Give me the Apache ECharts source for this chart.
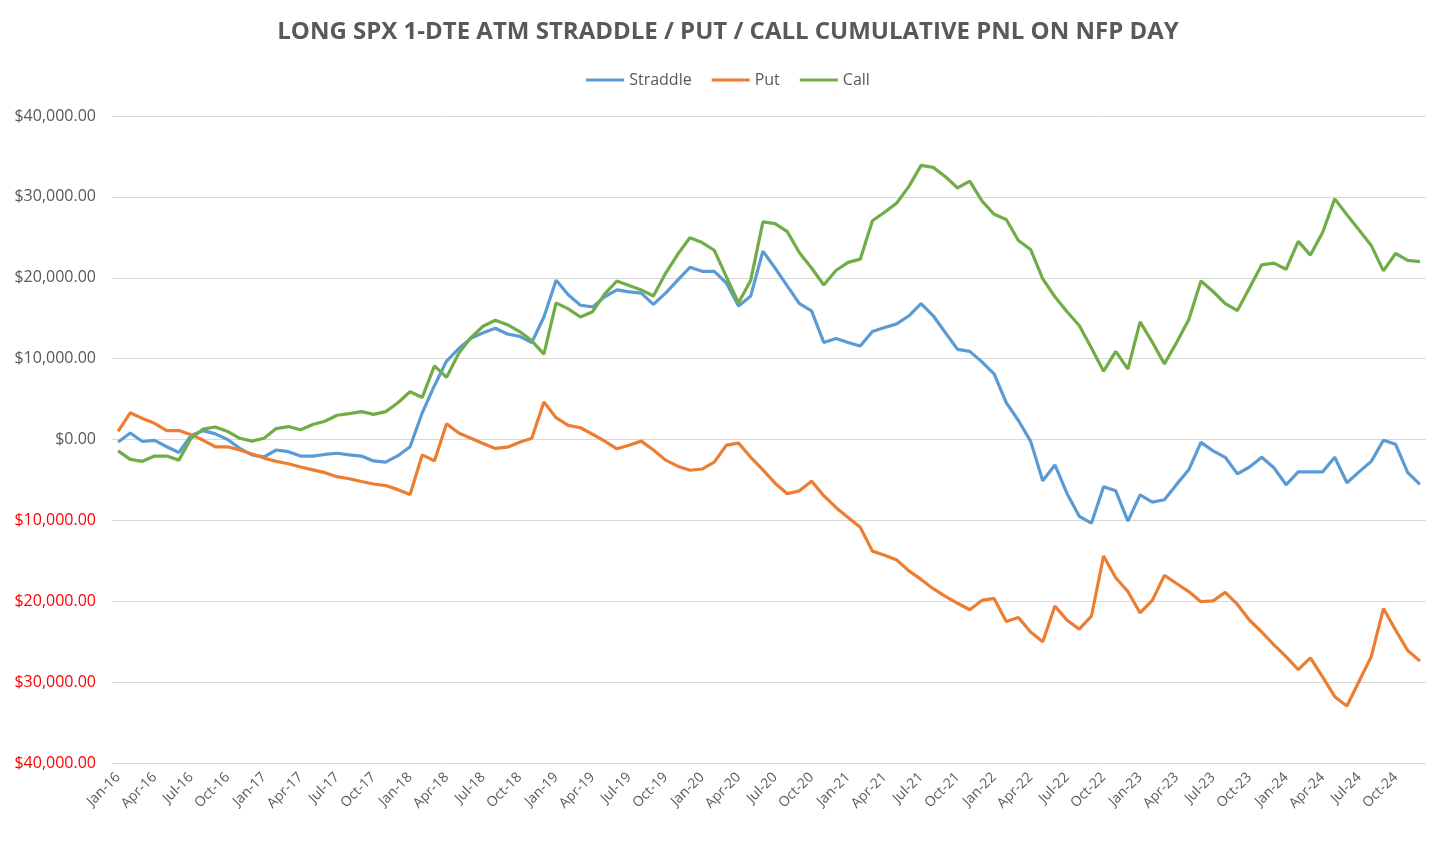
<!DOCTYPE html>
<html>
<head>
<meta charset="utf-8">
<script src="https://cdn.jsdelivr.net/npm/echarts@6/dist/echarts.min.js"></script>
<style>
html,body{margin:0;padding:0;background:#fff;}
#chart{width:1456px;height:842px;}
</style>
</head>
<body>
<div id="chart"></div>
<script>
const monthNames = ['Jan','Feb','Mar','Apr','May','Jun','Jul','Aug','Sep','Oct','Nov','Dec'];
const years = ['16','17','18','19','20','21','22','23','24'];
const categories = [];
years.forEach(y => monthNames.forEach(m => categories.push(m + '-' + y)));

const straddle = [
  -300, 800, -250, -100, -900, -1600, 500, 1100, 700, 0,
  -1100, -1900, -2150, -1300, -1500, -2050, -2050, -1850, -1700, -1900,
  -2050, -2650, -2800, -2000, -900, 3300, 6650, 9700, 11250, 12500,
  13200, 13750, 13050, 12750, 12000, 15150, 19700, 17900, 16600, 16400,
  17650, 18500, 18250, 18100, 16700, 18100, 19700, 21300, 20800, 20800,
  19350, 16500, 17750, 23300, 21200, 19000, 16800, 15900, 12000, 12500,
  12000, 11550, 13350, 13850, 14300, 15300, 16800, 15300, 13200, 11150,
  10900, 9600, 8100, 4550, 2350, -200, -5100, -3150, -6700, -9500,
  -10350, -5850, -6350, -10100, -6850, -7750, -7450, -5550, -3750, -350,
  -1400, -2200, -4250, -3400, -2200, -3500, -5600, -4000, -4000, -4000,
  -2200, -5350, -4000, -2700, -100, -600, -4100, -5550
];
const put = [
  1000, 3300, 2600, 2000, 1100, 1100, 600, -100, -900, -900,
  -1300, -1800, -2300, -2700, -3000, -3400, -3750, -4100, -4600, -4850,
  -5200, -5500, -5700, -6200, -6800, -1900, -2650, 1950, 800, 150,
  -500, -1100, -950, -350, 150, 4650, 2700, 1750, 1450, 650,
  -200, -1150, -700, -200, -1300, -2550, -3300, -3800, -3650, -2800,
  -700, -450, -2200, -3750, -5400, -6700, -6350, -5150, -6950, -8400,
  -9650, -10850, -13800, -14300, -14900, -16250, -17300, -18450, -19400, -20250,
  -21050, -19900, -19650, -22500, -22000, -23800, -25000, -20600, -22350, -23450,
  -21850, -14400, -17100, -18800, -21450, -19900, -16800, -17800, -18800, -20050,
  -19950, -18900, -20400, -22350, -23800, -25400, -26850, -28450, -27000, -29350,
  -31800, -32950, -29900, -26850, -20900, -23550, -26100, -27400
];
const call = [
  -1400, -2450, -2700, -2050, -2050, -2550, 150, 1300, 1550, 1000,
  150, -200, 150, 1350, 1600, 1200, 1850, 2250, 3000, 3200,
  3450, 3100, 3450, 4550, 5900, 5200, 9100, 7700, 10650, 12600,
  14000, 14750, 14200, 13350, 12200, 10550, 16900, 16150, 15150, 15800,
  18000, 19600, 19050, 18500, 17750, 20550, 22900, 24950, 24350, 23400,
  20100, 16900, 19700, 26900, 26700, 25700, 23100, 21200, 19100, 20900,
  21900, 22300, 27050, 28100, 29250, 31300, 33900, 33650, 32500, 31100,
  31950, 29500, 27850, 27200, 24600, 23500, 19850, 17650, 15800, 14100,
  11300, 8450, 10900, 8700, 14550, 12050, 9350, 12000, 14800, 19600,
  18300, 16800, 15950, 18750, 21600, 21800, 21050, 24500, 22800, 25600,
  29750, 27800, 25900, 24000, 20850, 23000, 22150, 22000
];

const chart = echarts.init(document.getElementById('chart'));
const grey = '#595959';
const font = 'Open Sans';

function fmt(v) {
  const a = Math.abs(v);
  const s = '$' + a.toLocaleString('en-US') + '.00';
  return v < 0 ? '{neg|' + s + '}' : '{pos|' + s + '}';
}

chart.setOption({
  backgroundColor: '#ffffff',
  animation: false,
  title: {
    text: 'LONG SPX 1-DTE ATM STRADDLE / PUT / CALL CUMULATIVE PNL ON NFP DAY',
    left: 'center',
    top: 15,
    textStyle: { color: grey, fontSize: 24, fontWeight: 'bold', fontFamily: font }
  },
  legend: {
    top: 67,
    left: 'center',
    icon: 'rect',
    itemWidth: 38,
    itemHeight: 3,
    itemGap: 20,
    textStyle: { color: grey, fontSize: 16, fontFamily: font }
  },
  grid: { left: 112, right: 30, top: 116, bottom: 79, containLabel: false },
  xAxis: {
    type: 'category',
    data: categories,
    boundaryGap: true,
    axisLine: { show: false },
    axisTick: { show: false },
    axisLabel: {
      interval: 2,
      rotate: 45,
      color: grey,
      fontSize: 14,
      fontFamily: font,
      margin: 12
    }
  },
  yAxis: {
    type: 'value',
    min: -40000,
    max: 40000,
    interval: 10000,
    axisLine: { show: false },
    axisTick: { show: false },
    splitLine: { lineStyle: { color: '#d9d9d9', width: 1 } },
    axisLabel: {
      formatter: fmt,
      margin: 16,
      rich: {
        pos: { color: grey, fontSize: 16, fontFamily: font },
        neg: { color: '#ff0000', fontSize: 16, fontFamily: font }
      }
    }
  },
  series: [
    { name: 'Straddle', type: 'line', data: straddle, showSymbol: false, symbol: 'none',
      lineStyle: { color: '#5b9bd5', width: 3.2 }, itemStyle: { color: '#5b9bd5' } },
    { name: 'Put', type: 'line', data: put, showSymbol: false, symbol: 'none',
      lineStyle: { color: '#ed7d31', width: 3.2 }, itemStyle: { color: '#ed7d31' } },
    { name: 'Call', type: 'line', data: call, showSymbol: false, symbol: 'none',
      lineStyle: { color: '#70ad47', width: 3.2 }, itemStyle: { color: '#70ad47' } }
  ]
});
</script>
</body>
</html>
